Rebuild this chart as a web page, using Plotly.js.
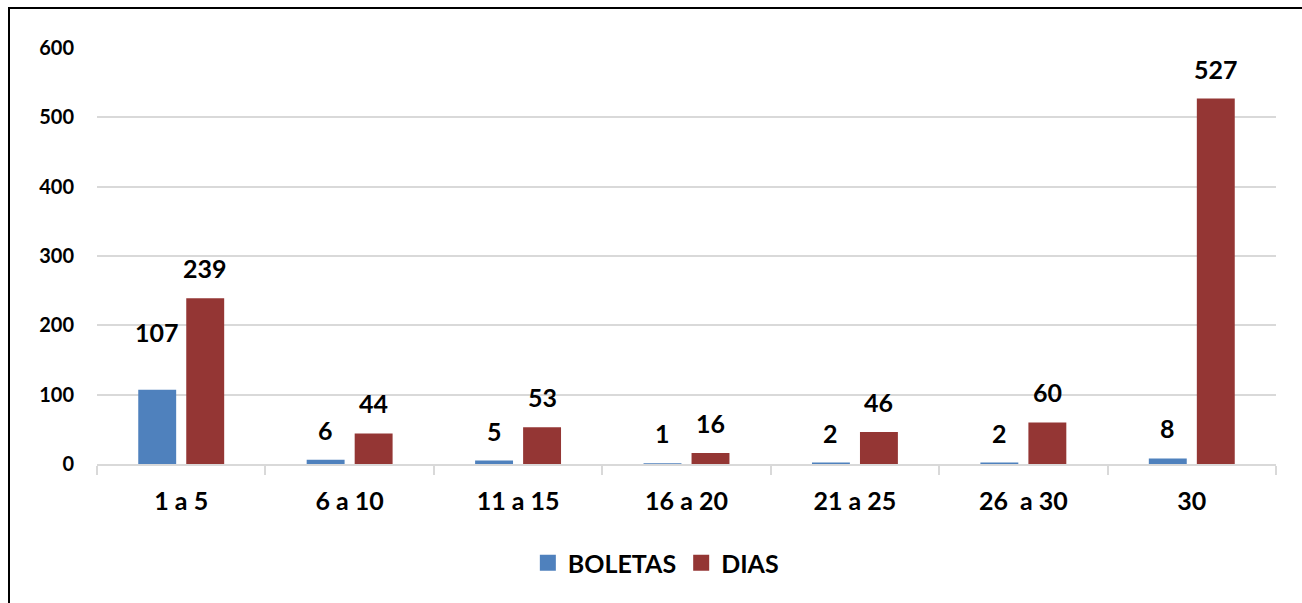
<!DOCTYPE html>
<html>
<head>
<meta charset="utf-8">
<script src="https://cdn.plot.ly/plotly-3.0.1.min.js"></script>
<style>
html,body{margin:0;padding:0;background:#fff;}
#chart{width:1302px;height:603px;position:absolute;left:0;top:0;}
#frame{position:absolute;left:8px;top:7px;width:1300px;height:600px;border-left:2px solid #000;border-top:2px solid #000;pointer-events:none;}
</style>
</head>
<body>
<div id="chart"></div>
<div id="frame"></div>
<script>
const categories = ["1 a 5", "6 a 10", "11 a 15", "16 a 20", "21 a 25", "26  a 30", "30"];
const boletas = [107, 6, 5, 1, 2, 2, 8];
const dias = [239, 44, 53, 16, 46, 60, 527];
const seriesNames = ["BOLETAS", "DIAS"];
const yTicks = [0, 100, 200, 300, 400, 500, 600];

const FONT = "Lato, 'Open Sans', sans-serif";
const blue = "#4f81bd";
const red = "#943634";

const idx = categories.map((c, i) => i);
const boundaries = categories.map((c, i) => i - 0.5).concat([categories.length - 0.5]);

const traces = [
  {type: "bar", name: seriesNames[0], x: idx, y: boletas, marker: {color: blue}, hoverinfo: "none", showlegend: false, legendgroup: "a"},
  {type: "bar", name: seriesNames[1], x: idx, y: dias, marker: {color: red}, hoverinfo: "none", showlegend: false, legendgroup: "b"},
  {type: "scatter", mode: "markers", name: seriesNames[0], x: [null], y: [null], legendgroup: "a",
   marker: {symbol: "square", size: 16, color: blue}},
  {type: "scatter", mode: "markers", name: seriesNames[1], x: [null], y: [null], legendgroup: "b",
   marker: {symbol: "square", size: 16, color: red}}
];

const annotations = [];
function addLabels(vals, xshift) {
  vals.forEach((v, i) => {
    let ys = 13;
    if (i === 0 && xshift < 0) ys = 41;
    annotations.push({
      x: i, y: v, xref: "x", yref: "y",
      text: "<b>" + v + "</b>", showarrow: false,
      xanchor: "center", yanchor: "bottom", xshift: xshift, yshift: ys,
      font: {family: FONT, size: 25, color: "#000"}
    });
  });
}
addLabels(boletas, -24);
addLabels(dias, 24);

const layout = {
  width: 1302, height: 603,
  margin: {l: 97, r: 26, t: 48, b: 139},
  paper_bgcolor: "#fff", plot_bgcolor: "#fff",
  barmode: "group", bargap: 0.43, bargroupgap: 0.21,
  showlegend: true,
  legend: {orientation: "h", x: 0.474, xanchor: "center", y: -0.238, yanchor: "middle",
           font: {family: FONT, size: 25, color: "#000", weight: "bold"}, itemwidth: 30, traceorder: "normal"},
  xaxis: {
    type: "linear", range: [-0.5, 6.5], tickvals: idx, ticktext: categories,
    showline: true, linecolor: "#d9d9d9", linewidth: 2,
    ticks: "", showgrid: false, zeroline: false, ticklabelstandoff: 14,
    tickfont: {family: FONT, size: 25, color: "#000", weight: "bold"},
    minor: {tickvals: boundaries, ticks: "outside", ticklen: 9, tickcolor: "#d9d9d9", tickwidth: 2, showgrid: false}
  },
  yaxis: {
    range: [0, 600], tickvals: yTicks, ticktext: yTicks.map(String),
    showgrid: true, gridcolor: "#d9d9d9", gridwidth: 2, zeroline: false, showline: false,
    ticks: "", ticklabelstandoff: 22,
    tickfont: {family: FONT, size: 20, color: "#000", weight: "bold"}
  },
  annotations: annotations,
  font: {family: FONT}
};

Plotly.newPlot("chart", traces, layout, {displayModeBar: false, staticPlot: true});
</script>
</body>
</html>
